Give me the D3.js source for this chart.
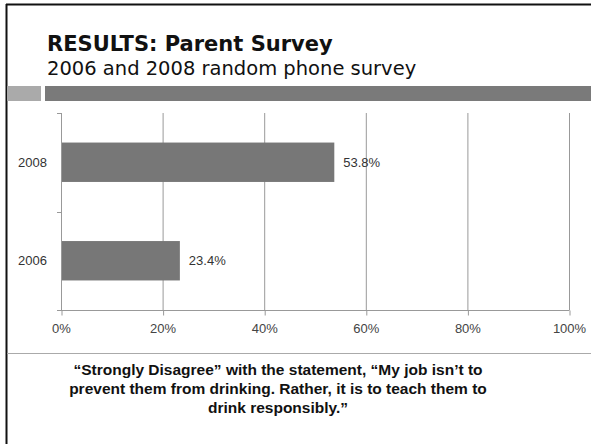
<!DOCTYPE html>
<html lang="en">
<head>
<meta charset="utf-8">
<title>RESULTS: Parent Survey</title>
<script src="https://d3js.org/d3.v7.min.js"></script>
<style>
  body { margin: 0; background: #fff; }
  svg { display: block; }
</style>
</head>
<body>
<script>
// data
const years = ["2008", "2006"];
const values = [53.8, 23.4];
const xTicks = [0, 20, 40, 60, 80, 100];
const captionLines = [
  "\u201CStrongly Disagree\u201D with the statement, \u201CMy job isn\u2019t to",
  "prevent them from drinking. Rather, it is to teach them to",
  "drink responsibly.\u201D"
];

const width = 591, height = 444;
const svg = d3.select("body").append("svg")
  .attr("width", width)
  .attr("height", height);

svg.append("rect").attr("width", width).attr("height", height).attr("fill", "#fff");

// slide frame (top and left edges)
svg.append("line").attr("x1", 6).attr("x2", width).attr("y1", 4.5).attr("y2", 4.5)
  .attr("stroke", "#111").attr("stroke-width", 2);
svg.append("line").attr("x1", 6.5).attr("x2", 6.5).attr("y1", 4).attr("y2", height)
  .attr("stroke", "#111").attr("stroke-width", 2);

// title
svg.append("text")
  .attr("x", 47).attr("y", 51)
  .attr("font-family", "DejaVu Sans, sans-serif")
  .attr("font-weight", "bold")
  .attr("font-size", 21)
  .attr("fill", "#111")
  .text("RESULTS: Parent Survey");

svg.append("text")
  .attr("x", 47).attr("y", 75)
  .attr("font-family", "DejaVu Sans, sans-serif")
  .attr("font-size", 19.5)
  .attr("fill", "#111")
  .text("2006 and 2008 random phone survey");

// header bars
svg.append("rect").attr("x", 7).attr("y", 86).attr("width", 34).attr("height", 15).attr("fill", "#aaa");
svg.append("rect").attr("x", 45).attr("y", 86).attr("width", width - 45).attr("height", 15).attr("fill", "#7a7a7a");

// chart
const plotL = 61, plotR = 569, plotT = 113, plotB = 310;

const x = d3.scaleLinear().domain([0, 100]).range([plotL, plotR]);
const y = d3.scaleBand().domain(years).range([plotT, plotB]).paddingInner(0.6).paddingOuter(0.3);

const g = svg.append("g");

// vertical gridlines
g.selectAll(".grid")
  .data(xTicks.slice(1))
  .enter().append("line")
  .attr("x1", d => x(d) + 0.5).attr("x2", d => x(d) + 0.5)
  .attr("y1", plotT).attr("y2", plotB)
  .attr("stroke", "#999").attr("stroke-width", 1);

// bottom axis
const xAxis = d3.axisBottom(x)
  .tickValues(xTicks)
  .tickFormat(d => d + "%")
  .tickSize(5)
  .tickPadding(8);

const xg = g.append("g")
  .attr("transform", "translate(0," + (plotB + 0.5) + ")")
  .call(xAxis);
xg.select(".domain").attr("stroke", "#999").attr("d", "M" + (plotL - 4) + ",0H" + (plotR + 0.5));
xg.selectAll(".tick line").attr("stroke", "#999").attr("transform", "translate(0.5,0)");
xg.selectAll(".tick text")
  .attr("font-family", "Liberation Sans, Arial, sans-serif")
  .attr("font-size", 13)
  .attr("fill", "#444");

// left axis line with tick marks at band edges
g.append("line")
  .attr("x1", plotL + 0.5).attr("x2", plotL + 0.5)
  .attr("y1", plotT).attr("y2", plotB)
  .attr("stroke", "#999");
const edges = [plotT, (plotT + plotB) / 2];
g.selectAll(".ytick")
  .data(edges)
  .enter().append("line")
  .attr("x1", plotL - 4).attr("x2", plotL + 0.5)
  .attr("y1", d => Math.round(d) + 0.5).attr("y2", d => Math.round(d) + 0.5)
  .attr("stroke", "#999");

// year labels
g.selectAll(".ylabel")
  .data(years)
  .enter().append("text")
  .attr("x", plotL - 14)
  .attr("y", d => y(d) + y.bandwidth() / 2)
  .attr("dy", "0.35em")
  .attr("text-anchor", "end")
  .attr("font-family", "Liberation Sans, Arial, sans-serif")
  .attr("font-size", 13)
  .attr("fill", "#333")
  .text(d => d);

// bars
const rows = years.map((yr, i) => ({ year: yr, value: values[i] }));

g.selectAll(".bar")
  .data(rows)
  .enter().append("rect")
  .attr("x", x(0) + 1)
  .attr("y", d => y(d.year))
  .attr("width", d => x(d.value) - x(0) - 1)
  .attr("height", y.bandwidth())
  .attr("fill", "#777");

g.selectAll(".val")
  .data(rows)
  .enter().append("text")
  .attr("x", d => x(d.value) + 9)
  .attr("y", d => y(d.year) + y.bandwidth() / 2)
  .attr("dy", "0.35em")
  .attr("font-family", "Liberation Sans, Arial, sans-serif")
  .attr("font-size", 13)
  .attr("fill", "#333")
  .text(d => d.value.toFixed(1) + "%");

// separator
svg.append("line").attr("x1", 7).attr("x2", width).attr("y1", 353.5).attr("y2", 353.5)
  .attr("stroke", "#aaa").attr("stroke-width", 1);

// caption
svg.selectAll(".cap")
  .data(captionLines)
  .enter().append("text")
  .attr("x", 278)
  .attr("y", (d, i) => 375 + i * 19)
  .attr("text-anchor", "middle")
  .attr("font-family", "Liberation Sans, Arial, sans-serif")
  .attr("font-weight", "bold")
  .attr("font-size", 15.5)
  .attr("fill", "#111")
  .text(d => d);
</script>
</body>
</html>
